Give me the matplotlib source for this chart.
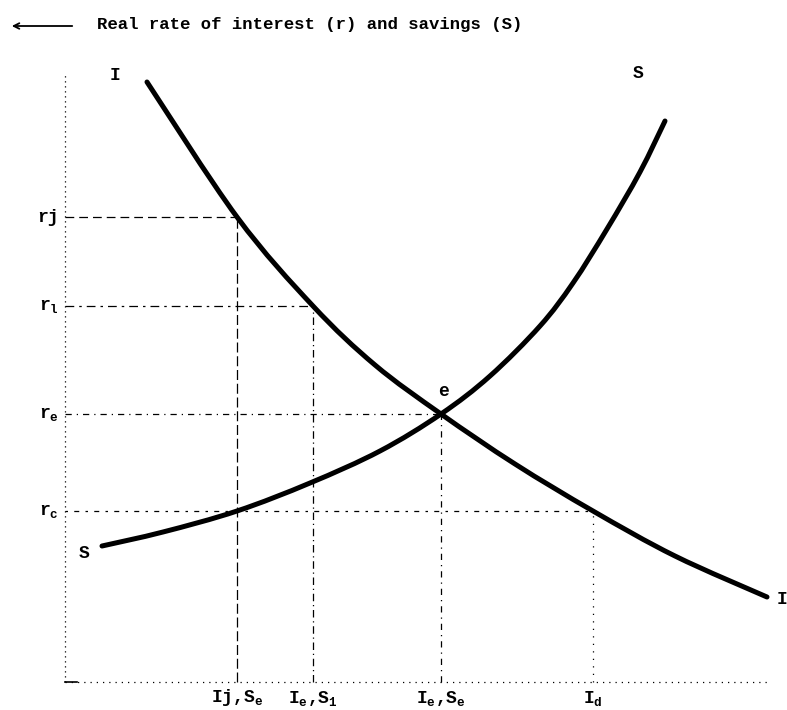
import numpy as np
from matplotlib import pyplot as plt
from matplotlib.path import Path
from matplotlib.patches import PathPatch

plt.rcParams['font.family'] = ['Liberation Mono', 'DejaVu Sans Mono']
plt.rcParams['mathtext.fontset'] = 'custom'
plt.rcParams['mathtext.rm'] = 'Liberation Mono:bold'
plt.rcParams['mathtext.it'] = 'Liberation Mono:bold'
plt.rcParams['mathtext.bf'] = 'Liberation Mono:bold'

# Investment schedule I (falls as the real rate rises)
inv_x = [8.2, 17.2, 24.8, 31.0, 37.6, 45.0, 52.8, 61.0, 70.2]
inv_y = [60.0, 46.5, 37.6, 31.7, 26.8, 21.8, 17.1, 12.6, 8.5]

# Savings schedule S (rises with the real rate)
sav_x = [3.7, 9.8, 17.2, 24.5, 31.5, 37.6, 42.5, 47.5, 50.8, 54.2, 57.5, 60.0]
sav_y = [13.6, 15.0, 17.1, 19.9, 23.1, 26.8, 30.6, 35.6, 39.9, 45.3, 51.0, 56.1]

# Rates on the vertical axis
rate_labels = ['rj', r'r$_\mathrm{l}$', r'r$_\mathrm{e}$', r'r$_\mathrm{c}$']
rate_vals = [46.5, 37.6, 26.8, 17.1]

# Quantities on the horizontal axis
qty_labels = [r'Ij,S$_\mathrm{e}$', r'I$_\mathrm{e}$,S$_\mathrm{1}$',
              r'I$_\mathrm{e}$,S$_\mathrm{e}$', r'I$_\mathrm{d}$']
qty_vals = [17.2, 24.8, 37.6, 52.8]


def smooth_path(xs, ys):
    # hand-drawn look: Catmull-Rom through the read points, as bezier segments
    p = np.column_stack([xs, ys])
    verts = [p[0]]
    codes = [Path.MOVETO]
    for i in range(len(p) - 1):
        p0 = p[i - 1] if i > 0 else p[i]
        p3 = p[i + 2] if i + 2 < len(p) else p[i + 1]
        c1 = p[i] + (p[i + 1] - p0) / 6.0
        c2 = p[i + 1] - (p3 - p[i]) / 6.0
        verts += [c1, c2, p[i + 1]]
        codes += [Path.CURVE4] * 3
    return Path(verts, codes)


fig = plt.figure(figsize=(7.87, 7.1), dpi=100)
ax = fig.add_axes([0, 0, 1, 1])
ax.set_xlim(-6.5, 72.2)
ax.set_ylim(-2.8, 68.2)
ax.axis('off')

# axes drawn as faint dotted lines, like the scan
ax.plot([0, 0], [0, 60.8], color='k', lw=0.9, ls=(0, (1, 3)))
ax.plot([0, 70.3], [0, 0], color='k', lw=0.9, ls=(0, (1, 4)))
ax.plot([0, 1.2], [0, 0], color='k', lw=1.2)

# guide lines from the curves to the axes
guide_styles = [(0, (7, 4)), (0, (7, 4, 2, 4)), (0, (5, 4, 1, 4)), (0, (2, 5, 4, 5))]
for i in range(4):
    ax.plot([0, qty_vals[i]], [rate_vals[i], rate_vals[i]], color='k', lw=0.9,
            ls=guide_styles[i])
vert_styles = [(0, (8, 3)), (0, (6, 3, 1, 3)), (0, (5, 4, 1, 4)), (0, (1, 5))]
for i in range(4):
    ax.plot([qty_vals[i], qty_vals[i]], [0, rate_vals[i]], color='k', lw=0.9,
            ls=vert_styles[i])

for xs, ys in [(inv_x, inv_y), (sav_x, sav_y)]:
    ax.add_patch(PathPatch(smooth_path(xs, ys), facecolor='none', edgecolor='k',
                           lw=3.6, capstyle='round', joinstyle='round'))

for lab, v in zip(rate_labels, rate_vals):
    ax.text(-0.6, v, lab, ha='right', va='center', fontsize=13, fontweight='bold')
for lab, v in zip(qty_labels, qty_vals):
    ax.text(v, -1.6, lab, ha='center', va='center', fontsize=13, fontweight='bold')

# curve names
ax.text(inv_x[0] - 3.2, inv_y[0] + 0.6, 'I', ha='center', va='center', fontsize=13, fontweight='bold')
ax.text(inv_x[-1] + 1.5, inv_y[-1] - 0.2, 'I', ha='center', va='center', fontsize=13, fontweight='bold')
ax.text(sav_x[-1] - 2.7, sav_y[-1] + 4.7, 'S', ha='center', va='center', fontsize=13, fontweight='bold')
ax.text(sav_x[0] - 1.8, sav_y[0] - 0.8, 'S', ha='center', va='center', fontsize=13, fontweight='bold')
ax.text(inv_x[4] + 0.2, inv_y[4] + 2.3, 'e', ha='center', va='center', fontsize=13, fontweight='bold')

# header with arrow
ax.annotate('', xy=(-5.6, 65.6), xytext=(1.0, 65.6),
            arrowprops=dict(arrowstyle='->', color='k', lw=1.3))
ax.text(3.2, 65.7, 'Real rate of interest (r) and savings (S)', ha='left', va='center',
        fontsize=12.4, fontweight='bold')

plt.savefig('out.png', dpi=100)
